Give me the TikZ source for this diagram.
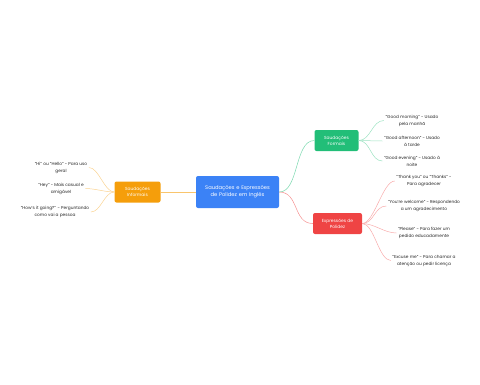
\documentclass[tikz,border=0pt]{standalone}
\usepackage{fontspec}
\setmainfont{Poppins}
\usepackage{tikz}
\usetikzlibrary{positioning,calc}

\definecolor{mainblue}{RGB}{59,130,246}
\definecolor{infoorange}{RGB}{245,158,11}
\definecolor{formgreen}{RGB}{34,190,120}
\definecolor{polired}{RGB}{239,68,68}

\begin{document}
\begin{tikzpicture}[
    x=1pt, y=-1pt,
    central/.style={rectangle, fill=mainblue, text=white, text width=72pt, align=center, rounded corners=2pt, minimum width=83pt, minimum height=32pt, font=\fontsize{5.2}{7}\selectfont},
    topic/.style={rectangle, text=white, align=center, rounded corners=2pt, minimum height=21pt, font=\fontsize{4.4}{6}\selectfont},
    leaf/.style={align=center, text=black!85, font=\fontsize{4.3}{7}\selectfont, inner sep=1.5pt},
    link/.style={line width=0.5pt},
]
    \useasboundingbox (0,0) rectangle (480,384);

    % Centre
    \node[central] (main) at (237.5,192) {Saudações e Expressões\\de Polidez em Inglês};

    % Topics
    \node[topic, fill=infoorange, minimum width=46pt] (info) at (137.5,192) {Saudações\\Informais};
    \node[topic, fill=formgreen, minimum width=44pt] (form) at (336.5,140.5) {Saudações\\Formais};
    \node[topic, fill=polired, minimum width=49pt] (poli) at (337.5,223.5) {Expressões de\\Polidez};

    % Informal leaves
    \node[leaf] (hi) at (61,167.5) {“Hi” ou “Hello” - Para uso\\geral};
    \node[leaf] (hey) at (61,188.5) {“Hey” - Mais casual e\\amigável};
    \node[leaf] (going) at (55,212) {“How’s it going?” - Perguntando\\como vai a pessoa};

    % Formal leaves
    \node[leaf] (morning) at (412,120.5) {“Good morning” - Usado\\pela manhã};
    \node[leaf] (afternoon) at (412,141) {“Good afternoon” - Usado\\à tarde};
    \node[leaf] (evening) at (412,161) {“Good evening” - Usado à\\noite};

    % Politeness leaves
    \node[leaf] (thanks) at (424,181) {“Thank you” ou “Thanks” -\\Para agradecer};
    \node[leaf] (welcome) at (424,206) {“You’re welcome” - Respondendo\\a um agradecimento};
    \node[leaf] (please) at (424,233) {“Please” - Para fazer um\\pedido educadamente};
    \node[leaf] (excuse) at (424,260.5) {“Excuse me” - Para chamar a\\atenção ou pedir licença};

    % Main branches
    \draw[link, infoorange!60] (main.west) -- (info.east);
    \draw[link, formgreen!60] (main.east) .. controls ++(20,0) and ($(form.west)+(-20,0)$) .. (form.west);
    \draw[link, polired!60] (main.east) .. controls ++(20,0) and ($(poli.west)+(-20,0)$) .. (poli.west);

    % Informal links
    \foreach \leafname in {hi, hey, going}
        \draw[link, infoorange!45] (info.west) .. controls ++(-10,0) and ($(\leafname.east)+(10,0)$) .. (\leafname.east);

    % Formal links
    \foreach \leafname in {morning, afternoon, evening}
        \draw[link, formgreen!45] (form.east) .. controls ++(12,0) and ($(\leafname.west)+(-12,0)$) .. (\leafname.west);

    % Politeness links
    \foreach \leafname in {thanks, welcome, please, excuse}
        \draw[link, polired!45] (poli.east) .. controls ++(12,0) and ($(\leafname.west)+(-12,0)$) .. (\leafname.west);
\end{tikzpicture}
\end{document}
